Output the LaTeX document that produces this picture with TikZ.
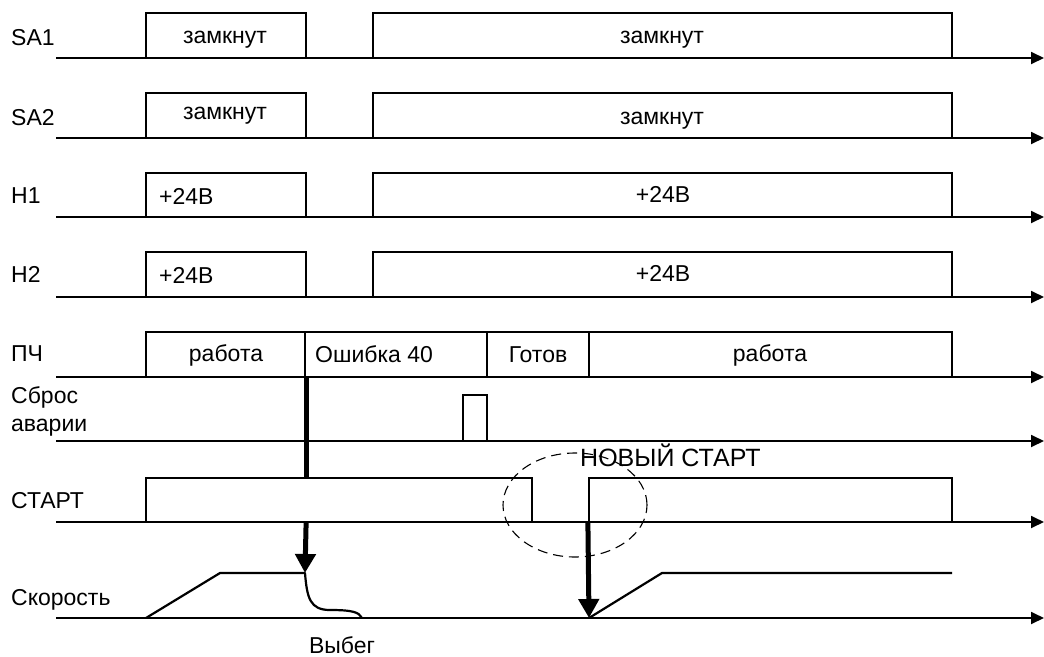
\documentclass[tikz,border=0pt]{standalone}
\usepackage{fontspec}
\setmainfont{Liberation Sans}
\usetikzlibrary{arrows.meta,fit,shapes.geometric}
\newcommand\tbox[5]{\node[box,fit={(#2,#3) (#4,#5)}] (#1) {};}
\begin{document}
\begin{tikzpicture}[x=1pt,y=-1pt,
  axis/.style={line width=1.8pt,-{Triangle[length=13pt,width=12pt]}},
  box/.style={draw,line width=2.2pt,inner sep=0pt},
  txt/.style={inner sep=0pt,anchor=base,font=\fontsize{23}{27}\selectfont},
  lbl/.style={txt,anchor=base west},
  big/.style={line width=5pt,-{Triangle[length=19pt,width=20pt]}},
  curve/.style={line width=2.2pt,line join=round}]
\useasboundingbox (0,0) rectangle (1044,656);
% axes
\foreach \n/\y in {sa1/58,sa2/138,h1/217,h2/297,pch/377,rst/441,st/522,spd/618}{
  \coordinate (\n s) at (56,\y);
  \coordinate (\n e) at (1044,\y);
  \draw[axis] (\n s) -- (\n e);
}
% labels
\node[lbl] (lsa1) at (11,45) {SA1};
\node[lbl] (lsa2) at (11,125) {SA2};
\node[lbl] (lh1) at (11,203) {H1};
\node[lbl] (lh2) at (11,282) {H2};
\node[lbl] (lpch) at (11,361) {ПЧ};
\node[lbl] (lrst1) at (11,403) {Сброс};
\node[lbl] (lrst2) at (11,431) {аварии};
\node[lbl] (lst) at (11,508) {СТАРТ};
\node[lbl] (lspd) at (11,605) {Скорость};
% SA1
\tbox{sa1a}{146}{13}{306}{58}
\tbox{sa1b}{373}{13}{952}{58}
\node[txt] (tsa1a) at (225,43) {замкнут};
\node[txt] (tsa1b) at (662,43) {замкнут};
% SA2
\tbox{sa2a}{146}{93}{306}{138}
\tbox{sa2b}{373}{93}{952}{138}
\node[txt] (tsa2a) at (225,119) {замкнут};
\node[txt] (tsa2b) at (662,124) {замкнут};
% H1
\tbox{h1a}{146}{173}{306}{217}
\tbox{h1b}{373}{173}{952}{217}
\node[lbl] (th1a) at (159,204) {+24В};
\node[txt] (th1b) at (663,202) {+24В};
% H2
\tbox{h2a}{146}{252}{306}{297}
\tbox{h2b}{373}{252}{952}{297}
\node[lbl] (th2a) at (159,283) {+24В};
\node[txt] (th2b) at (663,281) {+24В};
% PCH
\tbox{p1}{146}{332}{305}{377}
\tbox{p2}{305}{332}{487}{377}
\tbox{p3}{487}{332}{589}{377}
\tbox{p4}{589}{332}{952}{377}
\node[txt] (tp1) at (226,361) {работа};
\node[lbl] (tp2) at (315,362) {Ошибка 40};
\node[txt] (tp3) at (538,362) {Готов};
\node[txt] (tp4) at (770,361) {работа};
% reset pulse
\tbox{rp}{463}{395}{487}{441}
% START
\tbox{s1}{146}{478}{532}{522}
\tbox{s2}{589}{478}{952}{522}
% speed
\coordinate (r0) at (146,618);
\coordinate (r1) at (220,573);
\coordinate (r2) at (305,573);
\coordinate (r3) at (362,618);
\draw[curve] (r0) -- (r1) -- (r2)
  .. controls (307,598) and (310,610) .. (330,610)
  .. controls (352,610) and (359,612) .. (r3);
\coordinate (q0) at (589,618);
\coordinate (q1) at (662,573);
\coordinate (q2) at (952,573);
\draw[curve] (q0) -- (q1) -- (q2);
% thick arrows
\draw[line width=5pt] (p1.south east) -- (p1.south east |- s1.north);
\draw[big] (p1.south east |- s1.south) -- (r2);
\draw[big] (s2.south west) -- (q0);
% new start
\node[draw,dash pattern=on 10pt off 6pt,line width=1.1pt,ellipse,minimum width=144pt,minimum height=104pt,inner sep=0pt] (ell) at (575,505) {};
\node[lbl,font=\fontsize{25}{28}\selectfont] (tns) at (580,466) {НОВЫЙ СТАРТ};
\node[txt] (tvyb) at (342,653) {Выбег};
\end{tikzpicture}
\end{document}
